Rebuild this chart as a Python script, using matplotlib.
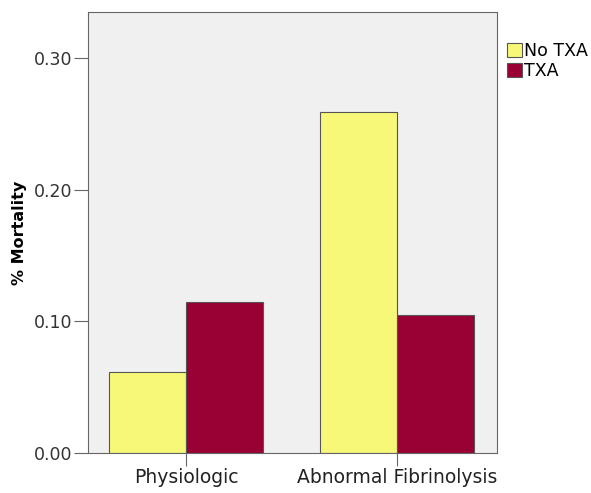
import numpy as np
import matplotlib.pyplot as plt

# Datos
categorias = ["Physiologic", "Abnormal Fibrinolysis"]
no_txa = [0.0616, 0.259]
txa = [0.1148, 0.105]

fig = plt.figure(figsize=(5.91, 4.93), dpi=100)
ax = fig.add_axes([0.149, 0.081, 0.692, 0.895])
ax.set_facecolor("#f0f0f0")

x = np.arange(len(categorias))
w = 0.366
ax.bar(x - w / 2, no_txa, w, color="#f8f878", edgecolor="#555555", linewidth=0.8, label="No TXA")
ax.bar(x + w / 2, txa, w, color="#990033", edgecolor="#555555", linewidth=0.8, label="TXA")

ax.set_xlim(-0.464, 1.474)
ax.set_ylim(0, 0.335)
ax.set_yticks([0, 0.1, 0.2, 0.3])
ax.set_yticklabels(["0.00", "0.10", "0.20", "0.30"])
ax.set_xticks(x)
ax.set_xticklabels(categorias)
ax.tick_params(axis="y", labelsize=12.5, labelcolor="#333333", color="#666666", length=10, width=0.8, pad=1)
ax.tick_params(axis="x", labelsize=13.5, labelcolor="#222222", color="#666666", length=9, width=0.8, pad=2)
for s in ax.spines.values():
    s.set_color("#666666")

ax.set_ylabel("% Mortality", fontsize=11.5, fontweight="bold", labelpad=5)

ax.legend(loc="upper left", bbox_to_anchor=(1.024, 0.932), frameon=False,
          fontsize=12.5, handlelength=0.86, handleheight=0.86, handletextpad=0.15,
          labelspacing=0.15, borderaxespad=0, borderpad=0)

fig.savefig("out.png", dpi=100)
